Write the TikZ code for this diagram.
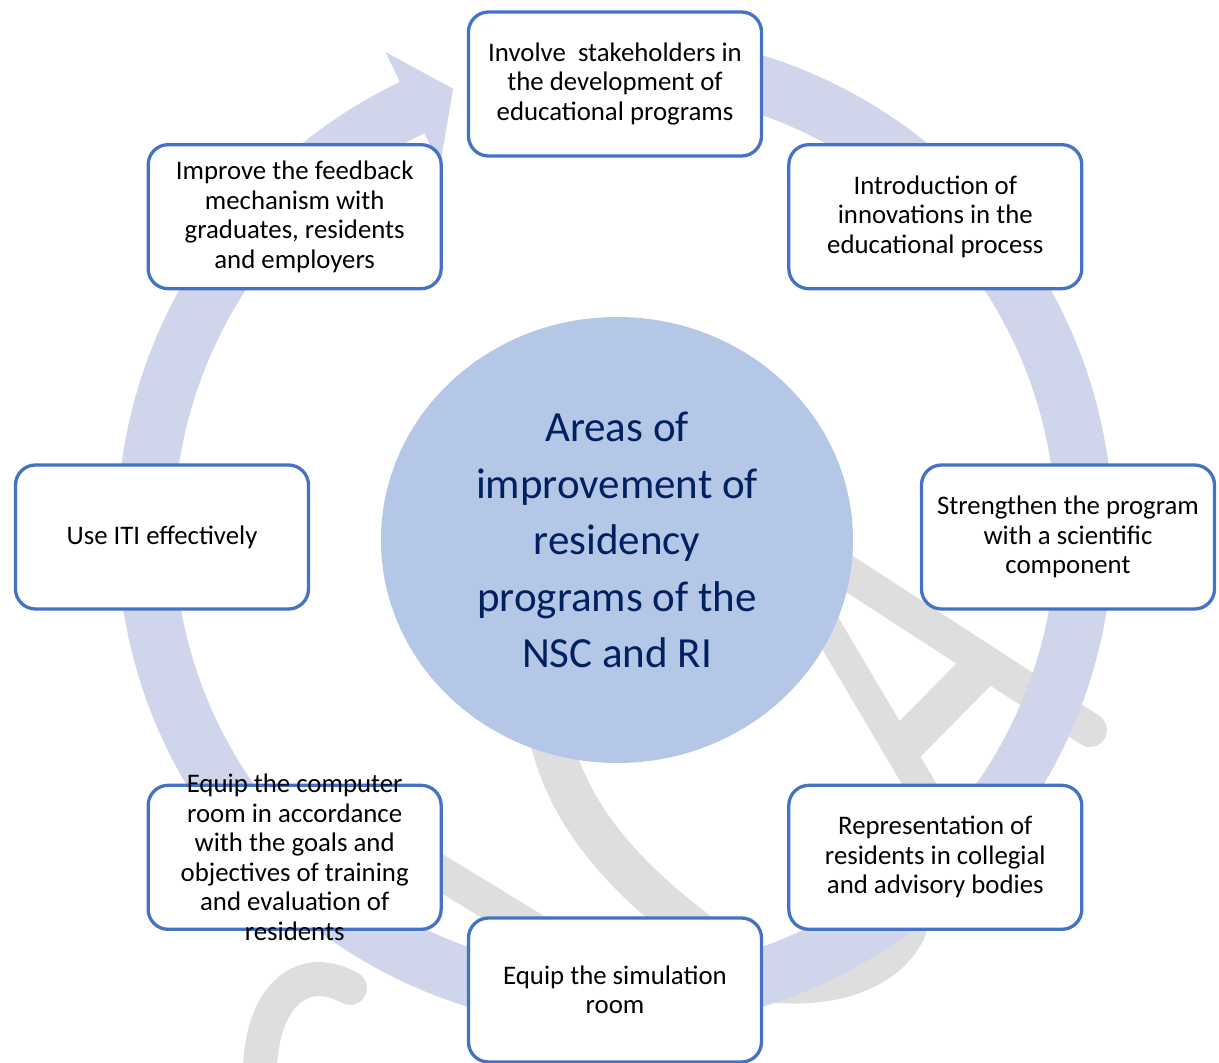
\documentclass[tikz,border=0pt]{standalone}
\usepackage{fontspec}
\setmainfont{Carlito}
\usepackage{tikz}
\usetikzlibrary{shapes.geometric}
\definecolor{boxblue}{RGB}{68,114,196}
\definecolor{ringcol}{RGB}{207,213,234}
\definecolor{hubfill}{RGB}{180,199,231}
\definecolor{hubtext}{RGB}{0,32,96}
\definecolor{logogrey}{RGB}{222,222,222}

\begin{document}
\begin{tikzpicture}[x=1pt,y=1pt,
  box/.style={draw=boxblue,line width=3.3pt,rounded corners=20pt,fill=white,minimum width=293pt,minimum height=144pt,inner sep=4pt,align=center,font=\fontsize{26.8}{29.5}\selectfont},
  hub/.style={ellipse,fill=hubfill,minimum width=472pt,minimum height=446pt,inner sep=0pt,align=center,text=hubtext,font=\fontsize{43}{56.5}\selectfont}]
  \useasboundingbox (-615,-526) rectangle (604,537);
  \clip (-615,-526) rectangle (604,537);
  % faint logo behind everything
  \draw[logogrey,line width=42pt,line cap=round](-70,-163) .. controls (-60,-313) and (85,-393) .. (145,-443) .. controls (215,-453) and (270,-433) .. (290,-393);
  \draw[logogrey,line width=34pt,line cap=round](145,21)--(475,-193);
  \draw[logogrey,line width=30pt](172,-23)--(345,-316);
  \draw[logogrey,line width=40pt](284,-213)--(370,-126);
  \draw[logogrey,line width=34pt](-215,-311)--(-15,-433);
  \draw[logogrey,line width=34pt,line cap=round](-355,-543) .. controls (-357,-463) and (-315,-423) .. (-265,-451);
  % circular arrow
  \begin{scope}[shift={(0,6)}]
  \draw[ringcol,line width=57pt](95:469.5) arc[start angle=95,end angle=-244.5,radius=469.5];
  \fill[ringcol](115.6:531)--(110.1:471)--(115.6:405)--cycle;
  \end{scope}
  \node (0) at (2,-3)[hub]{Areas of\\improvement of\\residency\\programs of the\\NSC and RI};
  \node (1) at (90:453)[box]{Involve\ \ stakeholders in\\the development of\\educational programs};
  \node (2) at (45:453)[box]{Introduction of\\innovations in the\\educational process};
  \node (3) at (0:453)[box]{Strengthen the program\\with a scientific\\component};
  \node (4) at (-45:453)[box]{Representation of\\residents in collegial\\and advisory bodies};
  \node (5) at (-90:453)[box]{Equip the simulation\\room};
  \node (6) at (-135:453)[box,inner ysep=-20pt]{Equip the computer\\room in accordance\\with the goals and\\objectives of training\\and evaluation of\\residents};
  \node (7) at (180:453)[box]{Use ITI effectively};
  \node (8) at (135:453)[box]{Improve the feedback\\mechanism with\\graduates, residents\\and employers};
\end{tikzpicture}
\end{document}
